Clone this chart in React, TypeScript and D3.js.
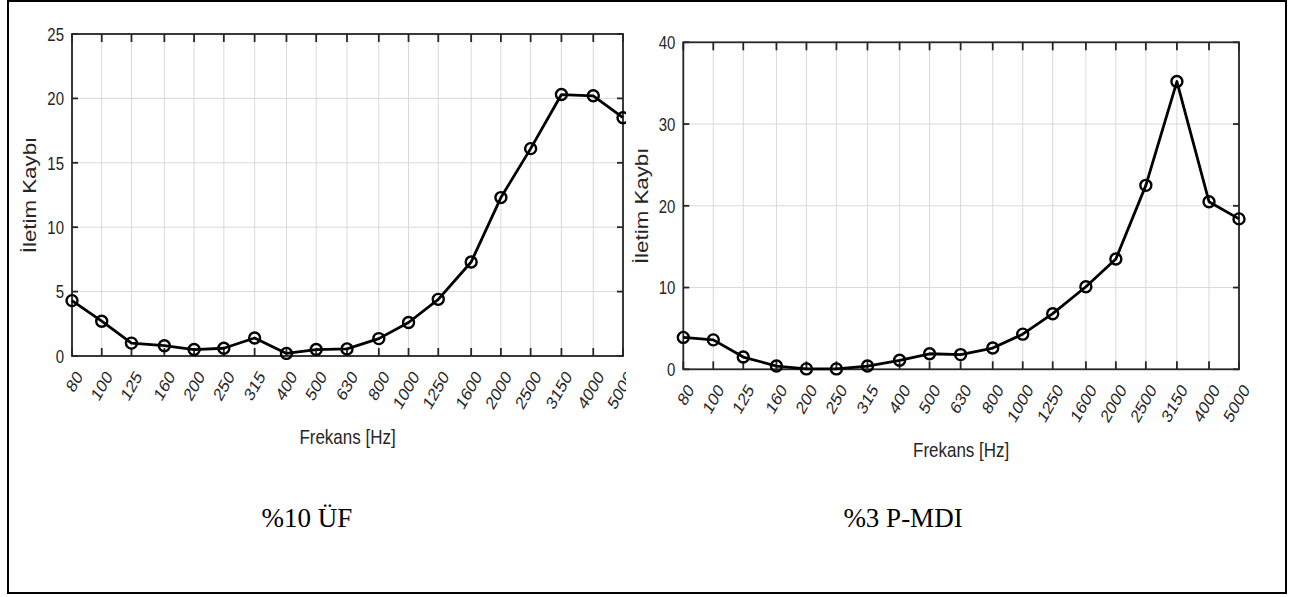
import React from "react";
import * as d3 from "d3";

// Third-octave band centre frequencies (Hz)
const frequencies = [80, 100, 125, 160, 200, 250, 315, 400, 500, 630, 800, 1000, 1250, 1600, 2000, 2500, 3150, 4000, 5000];
const frequencyLabels = frequencies.map(String);

// Transmission loss, %10 ÜF sample
const lossUF = [4.3, 2.7, 1.0, 0.8, 0.5, 0.6, 1.4, 0.2, 0.5, 0.55, 1.35, 2.6, 4.4, 7.3, 12.3, 16.1, 20.3, 20.2, 18.5];
// Transmission loss, %3 P-MDI sample
const lossPMDI = [3.9, 3.6, 1.5, 0.4, 0.05, 0.05, 0.4, 1.1, 1.9, 1.8, 2.6, 4.3, 6.8, 10.1, 13.5, 22.5, 35.2, 20.5, 18.4];

const ticksUF = [0, 5, 10, 15, 20, 25];
const ticksPMDI = [0, 10, 20, 30, 40];

const captions = ["%10 ÜF", "%3 P-MDI"];
const xTitle = "Frekans [Hz]";
const yTitle = "İletim Kaybı";

const SY = 1.24; // vertical stretch of the exported figure text
const AXIS = "#262626";
const GRID = "#d9d9d9";
const SANS = "'Liberation Sans', Arial, Helvetica, sans-serif";
const SERIF = "'Liberation Serif', 'Times New Roman', serif";

type PanelProps = {
  id: string;
  values: number[];
  yTicks: number[];
  left: number;
  right: number;
  top: number;
  bottom: number;
  clipRight: number;
  yTitleX: number;
  xTitleY: number;
};

function Panel(p: PanelProps) {
  const x = d3.scaleLog().domain([frequencies[0], frequencies[frequencies.length - 1]]).range([p.left, p.right]);
  const y = d3.scaleLinear().domain([p.yTicks[0], p.yTicks[p.yTicks.length - 1]]).range([p.bottom, p.top]);
  const line = d3
    .line<number>()
    .x((_, i) => x(frequencies[i]))
    .y((v) => y(v));
  const xt = 8;
  const yt = 6;
  const midY = (p.top + p.bottom) / 2;
  const midX = (p.left + p.right) / 2;
  return (
    <g clipPath={`url(#${p.id})`}>
      <defs>
        <clipPath id={p.id}>
          <rect x={0} y={0} width={p.clipRight} height={597} />
        </clipPath>
      </defs>
      {/* grid */}
      {frequencies.map((f) => (
        <line key={"gx" + f} x1={x(f)} x2={x(f)} y1={p.top} y2={p.bottom} stroke={GRID} strokeWidth={1} />
      ))}
      {p.yTicks.map((t) => (
        <line key={"gy" + t} x1={p.left} x2={p.right} y1={y(t)} y2={y(t)} stroke={GRID} strokeWidth={1} />
      ))}
      {/* ticks */}
      {frequencies.map((f) => (
        <g key={"tx" + f} stroke={AXIS} strokeWidth={1.8}>
          <line x1={x(f)} x2={x(f)} y1={p.bottom} y2={p.bottom - xt} />
          <line x1={x(f)} x2={x(f)} y1={p.top} y2={p.top + xt} />
        </g>
      ))}
      {p.yTicks.map((t) => (
        <g key={"ty" + t} stroke={AXIS} strokeWidth={1.8}>
          <line x1={p.left} x2={p.left + yt} y1={y(t)} y2={y(t)} />
          <line x1={p.right} x2={p.right - yt} y1={y(t)} y2={y(t)} />
        </g>
      ))}
      {/* box */}
      <rect x={p.left} y={p.top} width={p.right - p.left} height={p.bottom - p.top} fill="none" stroke={AXIS} strokeWidth={1.8} />
      {/* y tick labels */}
      {p.yTicks.map((t) => (
        <g key={"ly" + t} transform={`translate(${p.left - 8},${y(t)}) scale(1,${SY})`}>
          <text textAnchor="end" dy="0.36em" fontFamily={SANS} fontSize={15} fill={AXIS}>
            {t}
          </text>
        </g>
      ))}
      {/* x tick labels */}
      {frequencies.map((f, i) => (
        <g key={"lx" + f} transform={`translate(${x(f) + 7},${p.bottom + 17}) scale(1,${SY}) rotate(-55)`}>
          <text textAnchor="end" dy="0.36em" fontFamily={SANS} fontSize={15} fill={AXIS}>
            {frequencyLabels[i]}
          </text>
        </g>
      ))}
      {/* axis titles */}
      <g transform={`translate(${p.yTitleX},${midY}) scale(1,${SY}) rotate(-90)`}>
        <text textAnchor="middle" fontFamily={SANS} fontSize={18} fill={AXIS}>
          {yTitle}
        </text>
      </g>
      <g transform={`translate(${midX},${p.xTitleY}) scale(1,${SY})`}>
        <text textAnchor="middle" fontFamily={SANS} fontSize={17} fill={AXIS}>
          {xTitle}
        </text>
      </g>
      {/* series */}
      <path d={line(p.values) || ""} fill="none" stroke="#000" strokeWidth={2.8} strokeLinejoin="round" />
      {p.values.map((v, i) => (
        <circle key={"m" + i} cx={x(frequencies[i])} cy={y(v)} r={5.5} fill="none" stroke="#000" strokeWidth={2.4} />
      ))}
    </g>
  );
}

export default function App() {
  return (
    <svg
      width={1298}
      height={597}
      style={{ position: "absolute", left: 0, top: 0, display: "block", background: "#fff" }}
    >
      <rect x={0} y={0} width={1298} height={597} fill="#fff" />
      <Panel
        id="clipLeft"
        values={lossUF}
        yTicks={ticksUF}
        left={72}
        right={623}
        top={34}
        bottom={356}
        clipRight={626}
        yTitleX={36}
        xTitleY={444}
      />
      <Panel
        id="clipRight"
        values={lossPMDI}
        yTicks={ticksPMDI}
        left={683.3}
        right={1239}
        top={42.3}
        bottom={369.3}
        clipRight={1298}
        yTitleX={648}
        xTitleY={457}
      />
      {/* sample captions */}
      <text x={307} y={527} textAnchor="middle" fontFamily={SERIF} fontSize={27} fill="#000">
        {captions[0]}
      </text>
      <text x={903} y={527} textAnchor="middle" fontFamily={SERIF} fontSize={27} fill="#000">
        {captions[1]}
      </text>
      {/* outer frame */}
      <rect x={8} y={1} width={1278} height={592} fill="none" stroke="#000" strokeWidth={2} />
    </svg>
  );
}
